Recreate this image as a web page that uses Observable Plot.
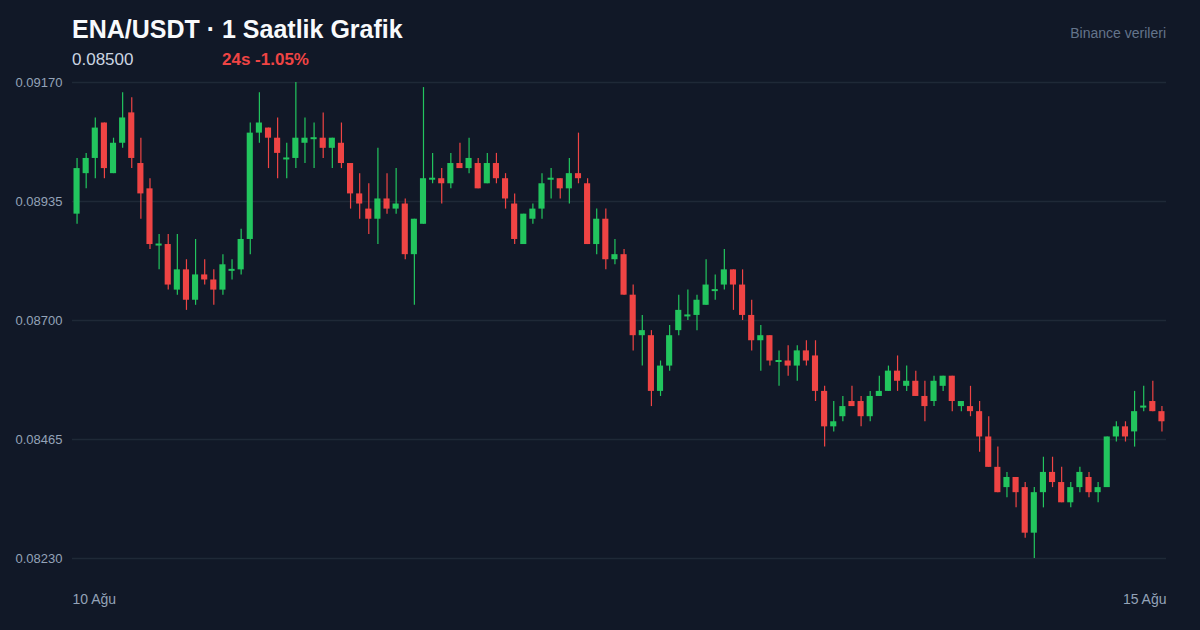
<!DOCTYPE html>
<html>
<head>
<meta charset="utf-8">
<script src="https://cdn.jsdelivr.net/npm/d3@7"></script>
<script src="https://cdn.jsdelivr.net/npm/@observablehq/plot@0.6"></script>
<style>
  html, body { margin: 0; padding: 0; background: #111827; }
  #wrap { position: relative; width: 1200px; height: 630px; background: #111827; overflow: hidden;
          font-family: "Liberation Sans", Arial, Helvetica, sans-serif; }
  .t { position: absolute; line-height: 1; white-space: nowrap; }
  #title { left: 72px; top: 17px; font-size: 25px; font-weight: bold; color: #f8fafc; }
  #price { left: 72px; top: 51px; font-size: 17px; color: #cbd5e1; }
  #change { left: 222px; top: 51px; font-size: 17px; font-weight: bold; color: #ef4444; }
  #source { right: 34px; top: 26px; font-size: 14px; color: #64748b; }
  #chart { position: absolute; left: 0; top: 72px; }
</style>
</head>
<body>
<div id="wrap">
  <div class="t" id="title">ENA/USDT · 1 Saatlik Grafik</div>
  <div class="t" id="price">0.08500</div>
  <div class="t" id="change">24s -1.05%</div>
  <div class="t" id="source">Binance verileri</div>
  <div id="chart"></div>
</div>
<script>
const open = [0.0891,0.0899,0.0902,0.0909,0.0899,0.0905,0.0911,0.0901,0.0896,0.0885,
0.0885,0.0876,0.0880,0.0874,0.0879,0.0878,0.0876,0.0880,0.0880,0.0886,
0.0907,0.0908,0.0906,0.0902,0.0902,0.0905,0.0906,0.0906,0.0904,0.0905,
0.0901,0.0895,0.0892,0.0890,0.0894,0.0892,0.0893,0.0883,0.0889,0.0898,
0.0898,0.0897,0.0901,0.0900,0.0901,0.0897,0.0901,0.0898,0.0893,0.0885,
0.0890,0.0892,0.0898,0.0898,0.0896,0.0899,0.0897,0.0885,0.0890,0.0882,
0.0883,0.0875,0.0867,0.0867,0.0856,0.0861,0.0868,0.0871,0.0871,0.0873,
0.0876,0.0877,0.0880,0.0877,0.0871,0.0866,0.0867,0.0862,0.0862,0.0861,
0.0864,0.0863,0.0856,0.0849,0.0851,0.0854,0.0854,0.0851,0.0855,0.0856,
0.0860,0.0857,0.0858,0.0855,0.0854,0.0857,0.0859,0.0853,0.0853,0.0852,
0.0847,0.0841,0.0837,0.0839,0.0837,0.0828,0.0836,0.0840,0.0838,0.0834,
0.0837,0.0839,0.0836,0.0837,0.0847,0.0849,0.0848,0.0853,0.0854,0.0852];
const high = [0.0902,0.0903,0.0910,0.0909,0.0906,0.0915,0.0914,0.0906,0.0898,0.0887,
0.0887,0.0887,0.0882,0.0886,0.0882,0.0880,0.0883,0.0882,0.0888,0.0909,
0.0915,0.0908,0.0910,0.0905,0.0917,0.0910,0.0909,0.0911,0.0906,0.0909,
0.0901,0.0899,0.0897,0.0904,0.0899,0.0900,0.0894,0.0890,0.0916,0.0903,
0.0900,0.0903,0.0905,0.0906,0.0902,0.0903,0.0903,0.0899,0.0895,0.0891,
0.0893,0.0899,0.0900,0.0898,0.0902,0.0907,0.0898,0.0892,0.0892,0.0886,
0.0884,0.0877,0.0871,0.0868,0.0862,0.0869,0.0875,0.0876,0.0875,0.0882,
0.0879,0.0884,0.0880,0.0880,0.0874,0.0869,0.0867,0.0864,0.0865,0.0865,
0.0866,0.0866,0.0857,0.0854,0.0855,0.0857,0.0855,0.0856,0.0859,0.0861,
0.0863,0.0861,0.0860,0.0858,0.0859,0.0859,0.0859,0.0854,0.0857,0.0854,
0.0851,0.0845,0.0840,0.0839,0.0838,0.0837,0.0843,0.0843,0.0841,0.0838,
0.0841,0.0840,0.0838,0.0847,0.0850,0.0850,0.0856,0.0857,0.0858,0.0853];
const low = [0.0889,0.0896,0.0898,0.0898,0.0899,0.0904,0.0900,0.0890,0.0884,0.0880,
0.0876,0.0875,0.0872,0.0873,0.0877,0.0873,0.0875,0.0878,0.0879,0.0883,
0.0905,0.0900,0.0898,0.0898,0.0900,0.0901,0.0900,0.0902,0.0900,0.0900,
0.0892,0.0890,0.0887,0.0885,0.0891,0.0891,0.0882,0.0873,0.0889,0.0897,
0.0893,0.0896,0.0900,0.0899,0.0896,0.0897,0.0897,0.0892,0.0885,0.0885,
0.0889,0.0890,0.0894,0.0894,0.0893,0.0897,0.0885,0.0883,0.0880,0.0881,
0.0875,0.0864,0.0861,0.0853,0.0855,0.0860,0.0867,0.0870,0.0868,0.0873,
0.0874,0.0876,0.0872,0.0870,0.0864,0.0860,0.0861,0.0857,0.0859,0.0858,
0.0861,0.0854,0.0845,0.0848,0.0850,0.0853,0.0849,0.0850,0.0855,0.0856,
0.0856,0.0856,0.0855,0.0850,0.0853,0.0856,0.0852,0.0852,0.0851,0.0844,
0.0841,0.0836,0.0835,0.0833,0.0827,0.0823,0.0833,0.0837,0.0834,0.0833,
0.0836,0.0835,0.0834,0.0837,0.0846,0.0846,0.0845,0.0852,0.0852,0.0848];
const close = [0.0900,0.0902,0.0908,0.0900,0.0905,0.0910,0.0902,0.0895,0.0885,0.0885,
0.0877,0.0880,0.0874,0.0879,0.0878,0.0876,0.0881,0.0880,0.0886,0.0907,
0.0909,0.0906,0.0903,0.0902,0.0906,0.0906,0.0906,0.0904,0.0906,0.0901,
0.0895,0.0893,0.0890,0.0894,0.0892,0.0893,0.0883,0.0890,0.0898,0.0898,
0.0897,0.0901,0.0900,0.0902,0.0896,0.0901,0.0898,0.0894,0.0886,0.0891,
0.0892,0.0897,0.0898,0.0896,0.0899,0.0898,0.0885,0.0890,0.0882,0.0883,
0.0875,0.0867,0.0868,0.0856,0.0861,0.0867,0.0872,0.0871,0.0874,0.0877,
0.0876,0.0880,0.0877,0.0871,0.0866,0.0867,0.0862,0.0862,0.0861,0.0864,
0.0862,0.0856,0.0849,0.0850,0.0853,0.0853,0.0851,0.0855,0.0856,0.0860,
0.0858,0.0858,0.0855,0.0853,0.0858,0.0859,0.0854,0.0854,0.0852,0.0847,
0.0841,0.0836,0.0839,0.0836,0.0828,0.0836,0.0840,0.0838,0.0834,0.0837,
0.0840,0.0836,0.0837,0.0847,0.0849,0.0847,0.0852,0.0853,0.0852,0.0850];
const yTicks = [0.0917, 0.08935, 0.0870, 0.08465, 0.0823];
const xLabels = ["10 Ağu", "15 Ağu"];

const GREEN = "#22c55e", RED = "#ef4444";
const data = open.map((o, i) => ({ i, o, h: high[i], l: low[i], c: close[i] }));
const ups = data.filter(d => d.c >= d.o);
const downs = data.filter(d => d.c < d.o);
const bodyUp = ups.filter(d => d.c !== d.o);
const doji = ups.filter(d => d.c === d.o);

const chart = Plot.plot({
  width: 1200, height: 558,
  marginLeft: 72, marginRight: 34, marginTop: 10, marginBottom: 72,
  style: { background: "transparent", color: "#94a3b8", fontFamily: "'Liberation Sans', Arial, sans-serif", fontSize: "13px" },
  x: { type: "band", domain: d3.range(open.length), padding: 0, round: false, axis: null },
  y: { domain: [0.0823, 0.0917], ticks: yTicks, tickFormat: d3.format(".5f"), tickSize: 0, tickPadding: 10, label: null },
  marks: [
    Plot.ruleY(yTicks, { stroke: "#1f2937", strokeWidth: 1.5 }),
    Plot.ruleX(ups, { x: "i", y1: "l", y2: "h", stroke: GREEN, strokeWidth: 1.2 }),
    Plot.ruleX(downs, { x: "i", y1: "l", y2: "h", stroke: RED, strokeWidth: 1.2 }),
    Plot.barY(bodyUp, { x: "i", y1: "o", y2: "c", fill: GREEN, insetLeft: 1.5, insetRight: 1.5 }),
    Plot.barY(downs, { x: "i", y1: "o", y2: "c", fill: RED, insetLeft: 1.5, insetRight: 1.5 }),
    Plot.tickY(doji, { x: "i", y: "o", stroke: GREEN, strokeWidth: 2, insetLeft: 1.5, insetRight: 1.5 }),
    Plot.text([xLabels[0]], { text: d => d, frameAnchor: "bottom-left", textAnchor: "start", dy: 45, fill: "#94a3b8", fontSize: 14 }),
    Plot.text([xLabels[1]], { text: d => d, frameAnchor: "bottom-right", textAnchor: "end", dy: 45, fill: "#94a3b8", fontSize: 14 })
  ]
});
document.getElementById("chart").appendChild(chart);
</script>
</body>
</html>
